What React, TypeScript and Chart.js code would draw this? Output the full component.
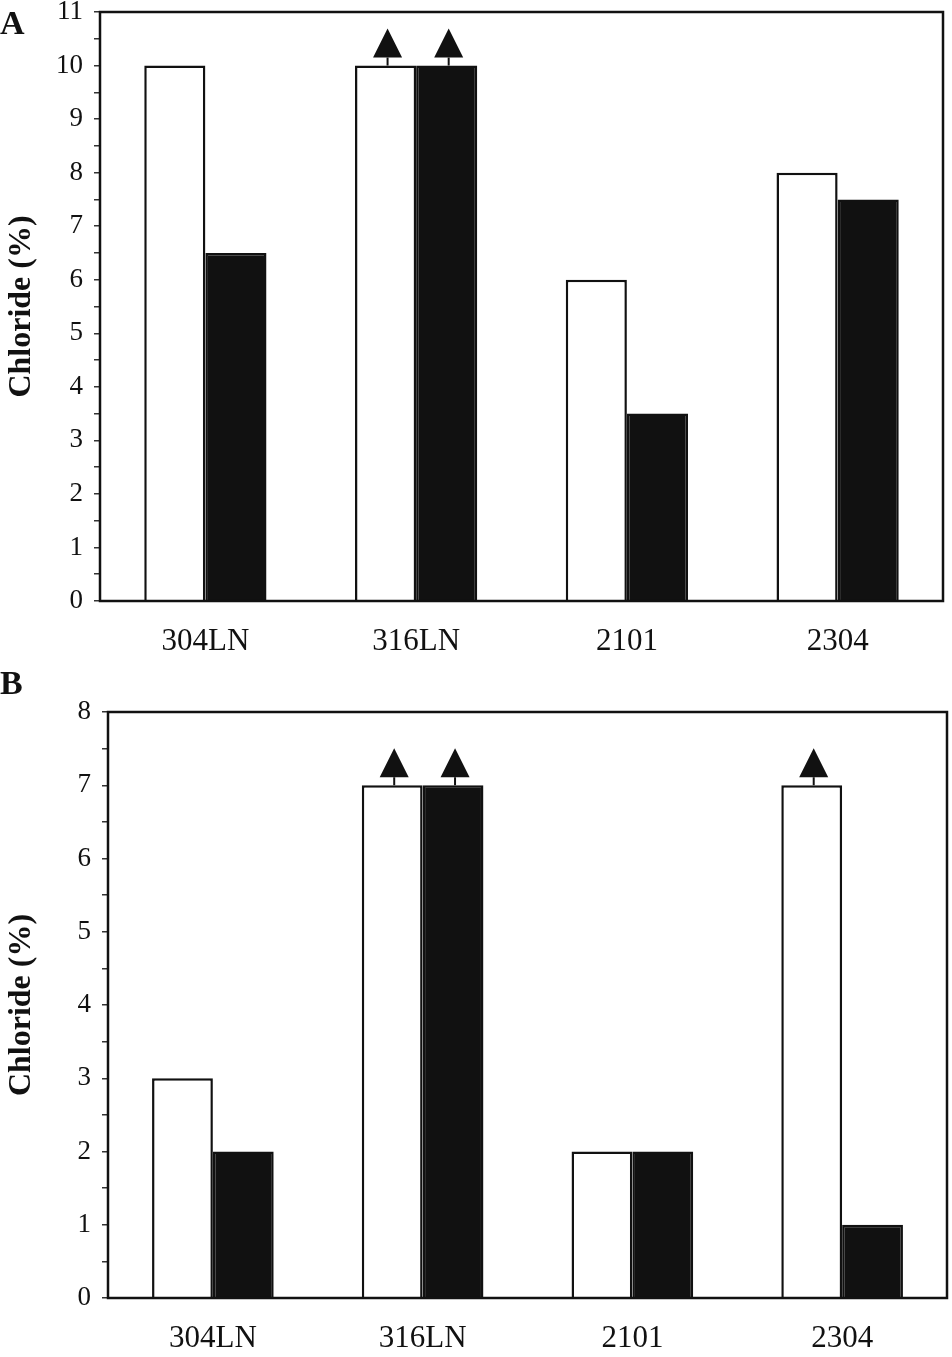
import { useEffect, useRef } from 'react';
import Chart, { ChartConfiguration, Plugin } from 'chart.js/auto';

const categories = ['304LN', '316LN', '2101', '2304'];

// panel A
const openA = [10, 10, 6, 8];
const filledA = [6.5, 10, 3.5, 7.5];
const openArrowA = [false, true, false, false];
const filledArrowA = [false, true, false, false];
const maxA = 11;

// panel B
const openB = [3, 7, 2, 7];
const filledB = [2, 7, 2, 1];
const openArrowB = [false, true, false, true];
const filledArrowB = [false, true, false, false];
const maxB = 8;

const SERIF = '"Liberation Serif", "Times New Roman", serif';
const INK = '#111';

// draws the frame round the plot area
const boxPlugin: Plugin = {
  id: 'plotBox',
  afterDraw(chart) {
    const { ctx, chartArea } = chart;
    ctx.save();
    ctx.strokeStyle = INK;
    ctx.lineWidth = 2.5;
    ctx.strokeRect(chartArea.left, chartArea.top, chartArea.right - chartArea.left, chartArea.bottom - chartArea.top);
    ctx.restore();
  },
};

// up arrows sitting on top of the bars that went off-scale
const arrowPlugin: Plugin = {
  id: 'upArrows',
  afterDatasetsDraw(chart, _args, opts: any) {
    const flags: boolean[][] = opts.flags || [];
    const { ctx } = chart;
    ctx.save();
    ctx.fillStyle = INK;
    ctx.strokeStyle = INK;
    ctx.lineWidth = 2;
    flags.forEach((row, i) => {
      const meta = chart.getDatasetMeta(i);
      row.forEach((on, j) => {
        if (!on) return;
        const el: any = meta.data[j];
        const x = el.x + 2;
        const y = el.y;
        ctx.beginPath();
        ctx.moveTo(x, y);
        ctx.lineTo(x, y - 8);
        ctx.stroke();
        ctx.beginPath();
        ctx.moveTo(x - 14.5, y - 8);
        ctx.lineTo(x + 14.5, y - 8);
        ctx.lineTo(x, y - 37);
        ctx.closePath();
        ctx.fill();
      });
    });
    ctx.restore();
  },
};

type PanelProps = {
  open: number[];
  filled: number[];
  arrows: boolean[][];
  max: number;
  width: number;
  height: number;
  axisWidth: number;
  padTop: number;
  padRight: number;
  xAxisHeight: number;
};

const Panel = ({ open, filled, arrows, max, width, height, axisWidth, padTop, padRight, xAxisHeight }: PanelProps) => {
  const chartRef = useRef<HTMLCanvasElement>(null);
  const chartInstance = useRef<Chart | null>(null);

  useEffect(() => {
    if (chartInstance.current) {
      chartInstance.current.destroy();
    }

    const config: ChartConfiguration<'bar', number[], string> = {
      type: 'bar',
      data: {
        labels: categories,
        datasets: [
          {
            data: open,
            backgroundColor: '#ffffff',
            borderColor: INK,
            borderWidth: 2.5,
            barPercentage: 1,
            categoryPercentage: 0.58,
          },
          {
            data: filled,
            backgroundColor: INK,
            borderColor: INK,
            borderWidth: 2.5,
            barPercentage: 1,
            categoryPercentage: 0.58,
          },
        ],
      },
      options: {
        responsive: true,
        maintainAspectRatio: false,
        animation: false,
        layout: { padding: { top: padTop, right: padRight, left: 0, bottom: 0 } },
        plugins: {
          legend: { display: false },
          tooltip: { enabled: false },
          upArrows: { flags: arrows },
        } as any,
        scales: {
          x: {
            grid: { display: false },
            border: { display: false },
            ticks: {
              color: INK,
              padding: 14,
              font: { family: SERIF, size: 31 },
              maxRotation: 0,
            },
            afterFit: (scale) => {
              scale.height = xAxisHeight;
            },
          },
          y: {
            min: 0,
            max: max,
            border: { display: false },
            grid: {
              drawOnChartArea: false,
              drawTicks: true,
              tickLength: 6,
              tickColor: '#333',
              lineWidth: 1.5,
            },
            ticks: {
              stepSize: 0.5,
              autoSkip: false,
              color: INK,
              padding: 11,
              font: { family: SERIF, size: 27 },
              callback: (v) => (Number(v) % 1 === 0 ? String(v) : ''),
            },
            title: {
              display: true,
              text: 'Chloride (%)',
              color: INK,
              padding: { top: 3, bottom: 0 },
              font: { family: SERIF, size: 32, weight: 'bold' },
            },
            afterFit: (scale: any) => {
              scale.width = axisWidth;
              // let the frame reach the layout padding, not the label overflow
              scale.paddingTop = 0;
              scale.paddingBottom = 0;
            },
          },
        },
      },
      plugins: [boxPlugin, arrowPlugin],
    };

    if (chartRef.current) {
      const ctx = chartRef.current.getContext('2d');
      if (ctx) {
        chartInstance.current = new Chart(ctx, config);
      }
    }

    return () => {
      if (chartInstance.current) {
        chartInstance.current.destroy();
        chartInstance.current = null;
      }
    };
  }, []);

  return (
    <div style={{ position: 'relative', width, height }}>
      <canvas ref={chartRef}></canvas>
    </div>
  );
};

const letterStyle: React.CSSProperties = {
  position: 'absolute',
  left: 0,
  fontFamily: SERIF,
  fontWeight: 'bold',
  fontSize: 34,
  lineHeight: 1,
  color: INK,
};

export default function App() {
  return (
    <div style={{ position: 'absolute', left: 0, top: 0, width: 952, height: 1357, background: '#fff' }}>
      <div style={{ position: 'absolute', left: 0, top: 0 }}>
        <Panel
          open={openA}
          filled={filledA}
          arrows={[openArrowA, filledArrowA]}
          max={maxA}
          width={952}
          height={665}
          axisWidth={100}
          padTop={12}
          padRight={9}
          xAxisHeight={64}
        />
      </div>
      <div style={{ position: 'absolute', left: 0, top: 665 }}>
        <Panel
          open={openB}
          filled={filledB}
          arrows={[openArrowB, filledArrowB]}
          max={maxB}
          width={952}
          height={692}
          axisWidth={108}
          padTop={47}
          padRight={5}
          xAxisHeight={59}
        />
      </div>
      <span style={{ ...letterStyle, top: 6 }}>A</span>
      <span style={{ ...letterStyle, top: 666 }}>B</span>
    </div>
  );
}
